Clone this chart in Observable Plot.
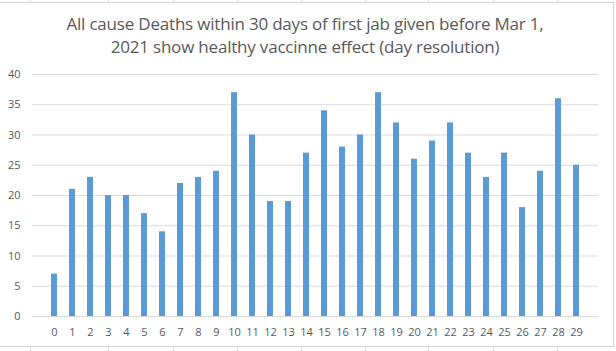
<!DOCTYPE html>
<html>
<head>
<meta charset="utf-8">
<script src="https://cdn.jsdelivr.net/npm/d3@7"></script>
<script src="https://cdn.jsdelivr.net/npm/@observablehq/plot@0.6"></script>
<style>
  html, body { margin: 0; padding: 0; background: #fff; }
  #wrap { position: relative; width: 616px; height: 351px; overflow: hidden; font-family: "Open Sans", "Noto Sans", sans-serif; }
  .col { position: absolute; width: 1px; background: #dcdcdc; }
  #frame { position: absolute; left: -2px; top: 2px; width: 616px; height: 345px; border: 1px solid #d4d4d4; box-sizing: border-box; background: #fff; }
  #title { position: absolute; left: 0; top: 12px; width: 610px; text-align: center; color: #595959; font-size: 17px; line-height: 23px; letter-spacing: -0.2px; white-space: nowrap; }
  #chart { position: absolute; left: 0; top: 62px; }
</style>
</head>
<body>
<div id="wrap">
  <div id="grid"></div>
  <div id="frame"></div>
  <div id="title">All cause Deaths within 30 days of first jab given before Mar 1,<br>2021 show healthy vaccinne effect (day resolution)</div>
  <div id="chart"></div>
</div>
<script>
const days = [0,1,2,3,4,5,6,7,8,9,10,11,12,13,14,15,16,17,18,19,20,21,22,23,24,25,26,27,28,29];
const deaths = [7,21,23,20,20,17,14,22,23,24,37,30,19,19,27,34,28,30,37,32,26,29,32,27,23,27,18,24,36,25];
const yTicks = [0,5,10,15,20,25,30,35,40];

// decorative spreadsheet cell borders outside the chart frame
const sheetCols = [30,108,173,237,301,365,428,493,557];
const grid = document.getElementById("grid");
for (const c of sheetCols) {
  for (const [top, h] of [[0, 3], [347, 4]]) {
    const d = document.createElement("div");
    d.className = "col";
    d.style.left = c + "px"; d.style.top = top + "px"; d.style.height = h + "px";
    grid.appendChild(d);
  }
}

const data = days.map((d, i) => ({day: d, value: deaths[i]}));

const plot = Plot.plot({
  width: 616,
  height: 289,
  marginLeft: 32,
  marginRight: 18,
  marginTop: 12,
  marginBottom: 35,
  style: {fontFamily: "'Open Sans', 'Noto Sans', sans-serif", fontSize: "11px", color: "#595959", background: "transparent"},
  x: {domain: days, paddingInner: 0.68, paddingOuter: 0.34, align: 0.5, label: null},
  y: {domain: [0, 40], ticks: yTicks, label: null},
  marks: [
    Plot.ruleY(yTicks, {stroke: "#d9d9d9", strokeOpacity: 1}),
    Plot.barY(data, {x: "day", y: "value", fill: "#5b9bd5"}),
    Plot.axisX({tickSize: 0, tickPadding: 12, fill: "#595959"}),
    Plot.axisY({ticks: yTicks, tickSize: 0, tickPadding: 12, fill: "#595959"})
  ]
});
document.getElementById("chart").appendChild(plot);
</script>
</body>
</html>
